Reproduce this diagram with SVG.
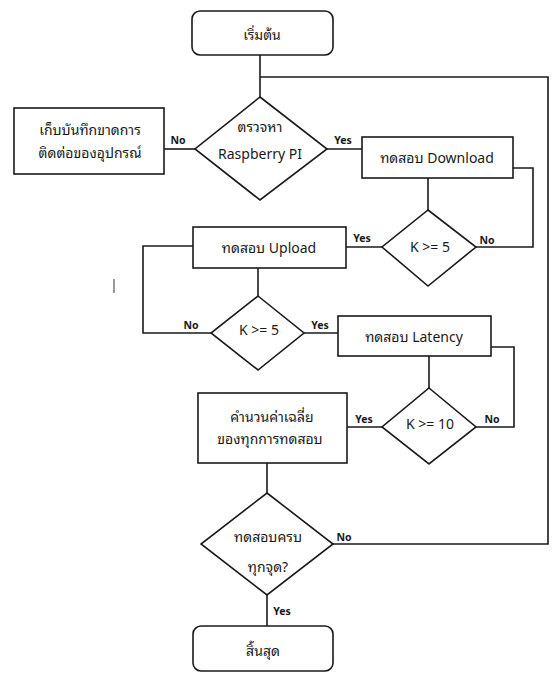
<svg xmlns="http://www.w3.org/2000/svg" width="552" height="676" viewBox="0 0 552 676">
  <style>
    .shape { fill: #ffffff; stroke: #1a1a1a; stroke-width: 1.6; }
    .wire { fill: none; stroke: #1a1a1a; stroke-width: 1.6; }
    .txt { font-family: "Noto Sans", "Noto Sans Thai Looped", "Noto Sans Thai", "DejaVu Sans", sans-serif; font-size: 14px; fill: #1a1a1a; text-anchor: middle; dominant-baseline: central; }
    .lbl { font-family: "Noto Sans", "DejaVu Sans", sans-serif; font-size: 10.5px; font-weight: bold; fill: #1a1a1a; text-anchor: middle; dominant-baseline: central; }
  </style>
  <rect width="552" height="676" fill="#ffffff"/>

  <!-- connectors -->
  <g id="connectors">
    <path class="wire" d="M260 55 V97"/>
    <path class="wire" d="M260 77 H548 V544 H333"/>
    <path class="wire" d="M195 149 H164"/>
    <path class="wire" d="M327 149 H362"/>
    <path class="wire" d="M428 178 V210"/>
    <path class="wire" d="M513 168 H533 V247 H476"/>
    <path class="wire" d="M382 247 H346"/>
    <path class="wire" d="M193 246 H143 V333 H211"/>
    <path class="wire" d="M258 268 V296"/>
    <path class="wire" d="M304 333 H338"/>
    <path class="wire" d="M429 356 V388"/>
    <path class="wire" d="M491 347 H514 V427 H476"/>
    <path class="wire" d="M382 427 H347"/>
    <path class="wire" d="M267 463 V493"/>
    <path class="wire" d="M267 595 V626"/>
    <text class="lbl" x="178" y="140">No</text>
    <text class="lbl" x="343" y="140">Yes</text>
    <text class="lbl" x="362" y="238">Yes</text>
    <text class="lbl" x="487" y="240">No</text>
    <text class="lbl" x="191" y="325">No</text>
    <text class="lbl" x="320" y="325">Yes</text>
    <text class="lbl" x="364" y="419">Yes</text>
    <text class="lbl" x="492" y="419">No</text>
    <text class="lbl" x="344" y="537">No</text>
    <text class="lbl" x="282" y="611">Yes</text>
  </g>

  <g id="start">
    <rect class="shape" x="192" y="11" width="141" height="44" rx="8"/>
    <text class="txt" x="262" y="34">เริ่มต้น</text>
  </g>

  <g id="check-pi">
    <polygon class="shape" points="260,97 327,149 260,200 195,149"/>
    <text class="txt" x="260" y="126">ตรวจหา</text>
    <text class="txt" x="260" y="153">Raspberry PI</text>
  </g>

  <g id="log-offline">
    <rect class="shape" x="14" y="108" width="150" height="66"/>
    <text class="txt" x="90" y="129">เก็บบันทึกขาดการ</text>
    <text class="txt" x="90" y="152">ติดต่อของอุปกรณ์</text>
  </g>

  <g id="test-download">
    <rect class="shape" x="362" y="137" width="151" height="41"/>
    <text class="txt" x="437" y="157">ทดสอบ Download</text>
  </g>

  <g id="check-download">
    <polygon class="shape" points="428,210 476,247 428,286 382,247"/>
    <text class="txt" x="430" y="246">K &gt;= 5</text>
  </g>

  <g id="test-upload">
    <rect class="shape" x="193" y="227" width="153" height="41"/>
    <text class="txt" x="269" y="247">ทดสอบ Upload</text>
  </g>

  <g id="check-upload">
    <polygon class="shape" points="258,296 304,333 258,370 211,333"/>
    <text class="txt" x="259" y="329">K &gt;= 5</text>
  </g>

  <g id="test-latency">
    <rect class="shape" x="338" y="316" width="153" height="40"/>
    <text class="txt" x="414" y="336">ทดสอบ Latency</text>
  </g>

  <g id="check-latency">
    <polygon class="shape" points="429,388 476,427 429,464 382,427"/>
    <text class="txt" x="430" y="423">K &gt;= 10</text>
  </g>

  <g id="average">
    <rect class="shape" x="198" y="393" width="149" height="70"/>
    <text class="txt" x="272" y="416">คำนวนค่าเฉลี่ย</text>
    <text class="txt" x="270" y="438">ของทุกการทดสอบ</text>
  </g>

  <g id="all-points">
    <polygon class="shape" points="267,493 333,544 267,595 201,544"/>
    <text class="txt" x="268" y="536">ทดสอบครบ</text>
    <text class="txt" x="268" y="566">ทุกจุด?</text>
  </g>

  <g id="end">
    <rect class="shape" x="193" y="626" width="140" height="45" rx="8"/>
    <text class="txt" x="263" y="650">สิ้นสุด</text>
  </g>

  <!-- stray caret mark -->
  <line x1="114" y1="279" x2="114" y2="293" stroke="#9a9a9a" stroke-width="2"/>
</svg>
